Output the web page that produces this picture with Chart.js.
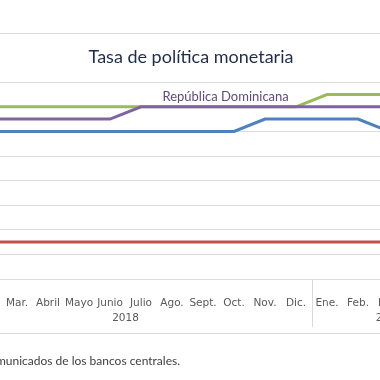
<!DOCTYPE html>
<html><head><meta charset="utf-8">
<script src="https://cdn.jsdelivr.net/npm/chart.js@4/dist/chart.umd.min.js"></script>
<style>
html,body{margin:0;padding:0;background:#fff;}
#wrap{position:relative;width:380px;height:380px;overflow:hidden;background:#fff;}
#c{position:absolute;left:0;top:0;width:440px;height:380px;}
</style></head><body>
<div id="wrap"><canvas id="c" width="440" height="380"></canvas></div>
<script>
// Months: Jan 2018 .. Apr 2019 (index 0 = Ene. 2018)
const months = ['Ene.','Feb.','Mar.','Abril','Mayo','Junio','Julio','Ago.','Sept.','Oct.','Nov.','Dic.','Ene.','Feb.','Mar.','Abril'];
const yearLabels = ['2018','2019'];
const yearCenters = [5.5, 14];      // centre month index of each year group
const yearBreaks = [11.5];          // boundary between Dic. and Ene.
const title = 'Tasa de política monetaria';
const source = 'Fuente: Comunicados de los bancos centrales.';
const seriesNames = ['República Dominicana','Honduras','Costa Rica','Guatemala'];
const repDom    = [5.25,5.25,5.25,5.25,5.25,5.25,5.5,5.5,5.5,5.5,5.5,5.5,5.5,5.5,5.5];
const honduras  = [5.5,5.5,5.5,5.5,5.5,5.5,5.5,5.5,5.5,5.5,5.5,5.5,5.75,5.75,5.75];
const costaRica = [5.0,5.0,5.0,5.0,5.0,5.0,5.0,5.0,5.0,5.0,5.25,5.25,5.25,5.25,5.0];
const guatemala = [2.75,2.75,2.75,2.75,2.75,2.75,2.75,2.75,2.75,2.75,2.75,2.75,2.75,2.75,2.75];
const yTicks = [2,2.5,3,3.5,4,4.5,5,5.5,6,6.5,7];

const toPts = arr => arr.map((v,i)=>({x:i,y:v}));
const colors = {rd:'#8064a2', hn:'#9bbb59', cr:'#4f81bd', gt:'#c0504d'};

const decor = {
  id:'decor',
  afterDraw(chart){
    const ctx = chart.ctx, xs = chart.scales.x, ys = chart.scales.y, ca = chart.chartArea;
    ctx.save();
    // title
    ctx.fillStyle = '#1f2d4d';
    ctx.font = '18px Lato';
    ctx.textAlign = 'center'; ctx.textBaseline = 'middle';
    ctx.fillText(title, 191, ys.getPixelForValue(6.5));
    // series label
    ctx.fillStyle = '#5f4a80';
    ctx.font = '13px Lato';
    ctx.fillText(seriesNames[0], xs.getPixelForValue(8.73), ys.getPixelForValue(5.5) - 10);
    // year separators
    ctx.strokeStyle = '#d9d9d9'; ctx.lineWidth = 1;
    yearBreaks.forEach(b=>{
      const x = Math.round(xs.getPixelForValue(b)) + 0.5;
      ctx.beginPath(); ctx.moveTo(x, ca.bottom); ctx.lineTo(x, ca.bottom + 48); ctx.stroke();
    });
    // bottom line
    ctx.beginPath(); ctx.moveTo(0, 333.5); ctx.lineTo(chart.width, 333.5); ctx.stroke();
    // year labels
    ctx.fillStyle = '#595959';
    ctx.font = '10.5px "DejaVu Sans"';
    yearLabels.forEach((t,i)=>{
      ctx.fillText(t, xs.getPixelForValue(yearCenters[i]), 318);
    });
    // source
    ctx.fillStyle = '#404040';
    ctx.font = '12px Lato';
    ctx.textAlign = 'right';
    ctx.fillText(source, 180, 361);
    ctx.restore();
  }
};

new Chart(document.getElementById('c'), {
  type:'line',
  data:{
    datasets:[
      {label:seriesNames[0], data:toPts(repDom), borderColor:colors.rd},
      {label:seriesNames[1], data:toPts(honduras), borderColor:colors.hn},
      {label:seriesNames[2], data:toPts(costaRica), borderColor:colors.cr},
      {label:seriesNames[3], data:toPts(guatemala), borderColor:colors.gt}
    ]
  },
  options:{
    responsive:false, animation:false, devicePixelRatio:1,
    layout:{padding:{top:33,left:0,right:0,bottom:0}},
    elements:{line:{borderWidth:3,tension:0,fill:false}, point:{radius:0}},
    plugins:{legend:{display:false}, tooltip:{enabled:false}, title:{display:false}},
    scales:{
      x:{type:'linear', min:2-17/31, max:2+423/31,
        afterBuildTicks(s){ const t=[]; for(let i=Math.ceil(s.min);i<=Math.floor(s.max);i++) t.push({value:i}); s.ticks=t; },
        afterFit(s){ s.height = 101; s.paddingLeft = 0; s.paddingRight = 0; },
        grid:{display:false}, border:{display:false},
        ticks:{autoSkip:false, maxRotation:0, minRotation:0, padding:10, color:'#595959',
          font:{family:'DejaVu Sans', size:10.5},
          callback:v=>months[v] ?? ''}
      },
      y:{min:2, max:7,
        afterBuildTicks(s){ s.ticks = yTicks.map(v=>({value:v})); },
        afterFit(s){ s.width = 0; s.paddingTop = 0; s.paddingBottom = 0; },
        border:{display:false},
        grid:{drawTicks:false, lineWidth:1, color:c=> (c.tick && c.tick.value===6.5) ? 'rgba(0,0,0,0)' : '#dcdcdc'},
        ticks:{display:false}
      }
    }
  },
  plugins:[decor]
});
</script>
</body></html>
